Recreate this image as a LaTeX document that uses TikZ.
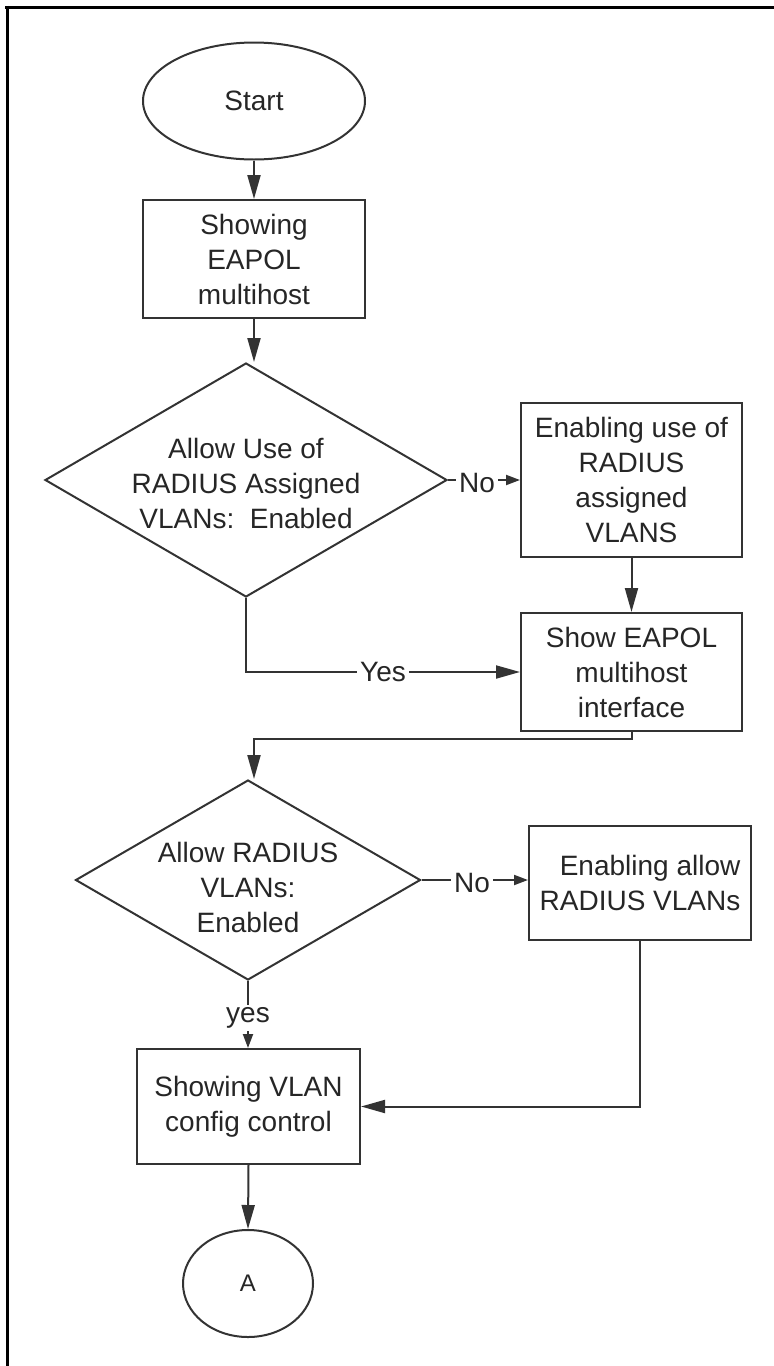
\documentclass[tikz,border=0pt]{standalone}
\usepackage{fontspec}
\setmainfont{Liberation Sans}
\usetikzlibrary{shapes.geometric,arrows.meta,calc}
\begin{document}
\begin{tikzpicture}[x=1pt,y=-1pt,
  every node/.style={font=\fontsize{28}{35}\selectfont, text=black!85},
  shp/.style={draw=black!80, line width=2pt, inner sep=0pt, align=center},
  boxs/.style={shp, rectangle, minimum width=222pt},
  dia/.style={draw=black!80, line width=2pt, diamond, inner sep=0pt},
  conn/.style={draw=black!80, line width=2pt},
  big/.style={conn, -{Triangle[length=24pt,width=13pt]}},
  small/.style={conn, -{Triangle[length=14pt,width=10pt]}},
  lbl/.style={fill=white, inner sep=3pt},
  frame/.style={draw=black, line width=3.5pt}]
\useasboundingbox (0,0) rectangle (774,1366);
% frame
\draw[frame] (5,7.5) -- (774,7.5);
\draw[frame] (7.5,5.75) -- (7.5,1366);
% nodes
\node[shp, ellipse, minimum width=222pt, minimum height=117pt] (start) at (254,101) {Start};
\node[boxs, minimum height=118pt] (b1) at (254,259) {Showing\\EAPOL\\multihost};
\node[dia, minimum width=402pt, minimum height=234pt] (d1) at (246,480) {};
\node[align=center] (d1t) at (246,483) {Allow Use of\\RADIUS Assigned\\VLANs:\ \ Enabled};
\node[boxs, minimum width=221pt, minimum height=154pt] (r1) at (631.5,480) {Enabling use of\\RADIUS\\assigned\\VLANS};
\node[boxs, minimum width=221pt, minimum height=118pt] (b2) at (631.5,672) {Show EAPOL\\multihost\\interface};
\node[dia, minimum width=345pt, minimum height=200pt] (d2) at (248,880) {};
\node[align=center] (d2t) at (248,887) {Allow RADIUS\\VLANs:\\Enabled};
\node[boxs, minimum width=222pt, minimum height=114pt, align=right] (r2) at (640,883) {Enabling allow\\RADIUS VLANs};
\node[boxs, minimum width=223pt, minimum height=115pt] (cfg) at (248.5,1106.5) {Showing VLAN\\config control};
\node[shp, ellipse, minimum width=130pt, minimum height=107pt, font=\fontsize{24}{30}\selectfont] (a) at (248,1283.5) {A};
% connectors
\coordinate (j) at (254,739);
\draw[big] (start.south) -- (b1.north);
\draw[big] (b1.south) -- (b1.south |- d1.north);
\draw[small] (d1.east) -- (d1.east -| r1.west);
\node[lbl] (no1) at (477,483) {No};
\draw[big] (r1.south) -- (b2.north);
\draw[big] (d1.south) |- (b2.west);
\node[lbl] (yes1) at (383,672) {Yes};
\draw[big] (b2.south) |- (j) -- (j |- d2.north);
\draw[small] (d2.east) -- (d2.east -| r2.west);
\node[lbl] (no2) at (472,883) {No};
\draw[small] (d2.south) -- (d2.south |- cfg.north);
\node[lbl] (yes2) at (248,1018) {yes};
\draw[big] (r2.south) |- (cfg.east);
\draw[big] (cfg.south) -- (a.north);
\end{tikzpicture}
\end{document}
